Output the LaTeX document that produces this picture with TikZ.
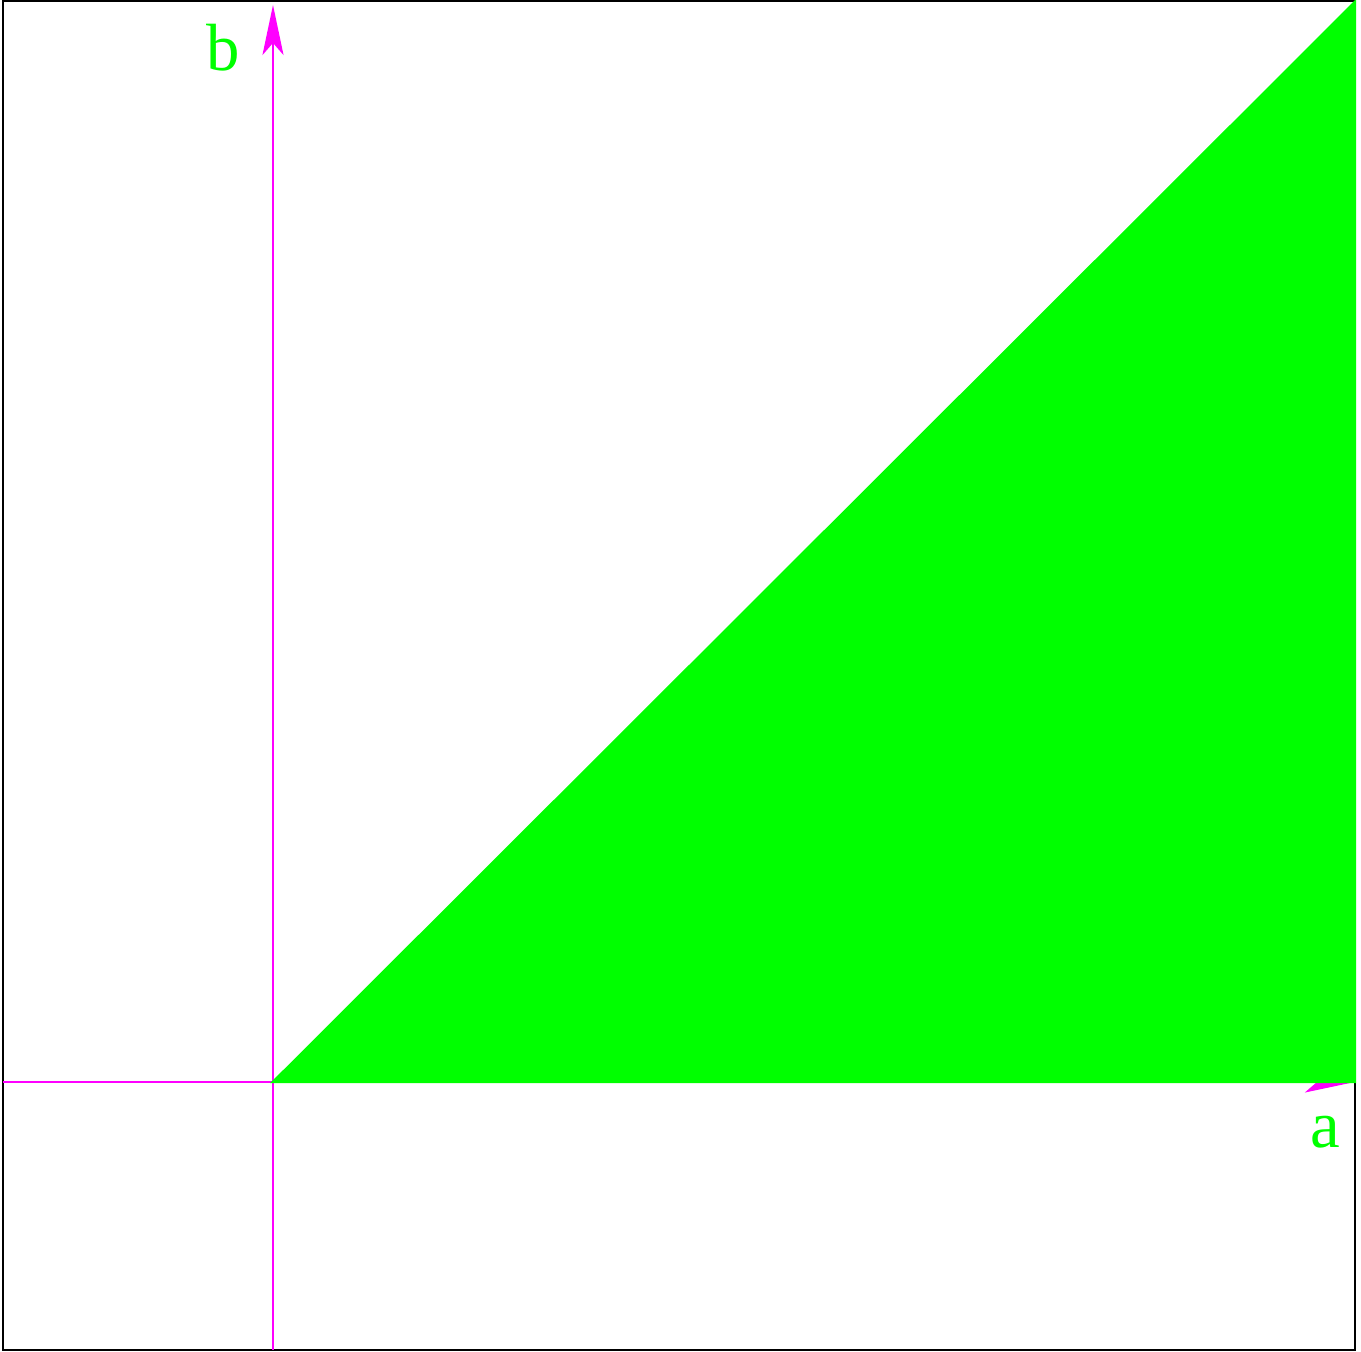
\documentclass[tikz,border=0pt]{standalone}
\usepackage{fontspec}
\setmainfont{Liberation Serif}
\usepackage{tikz}
\usetikzlibrary{arrows.meta}
\definecolor{axmag}{rgb}{1,0,1}
\definecolor{regreen}{rgb}{0,1,0}

\begin{document}
\begin{tikzpicture}[
    axis/.style={axmag, line width=0.7pt, -{Stealth[length=5mm, width=2.1mm, inset=1.2mm]}},
    lbl/.style={text=regreen, font=\fontsize{19}{19}\selectfont, inner sep=0pt}
]
    \useasboundingbox (0,0) rectangle (13.61,13.52);

    % Frame
    \draw[black, line width=0.8pt] (0.03,0.02) rectangle (13.55,13.51);

    % Axes
    \coordinate (o) at (2.73,2.70);
    \coordinate (xl) at (0.03,2.70);
    \coordinate (xr) at (13.55,2.70);
    \coordinate (yb) at (2.73,0.02);
    \coordinate (yt) at (2.73,13.47);
    \draw[axis] (xl) -- (xr);
    \draw[axis] (yb) -- (yt);

    % Region
    \coordinate (c) at (13.55,13.50);
    \filldraw[regreen, line width=0.7pt] (o) -- (xr) -- (c) -- cycle;

    \node[lbl] (b) at (2.23,13.04) {b};
    \node[lbl] (a) at (13.25,2.20) {a};

\end{tikzpicture}
\end{document}
